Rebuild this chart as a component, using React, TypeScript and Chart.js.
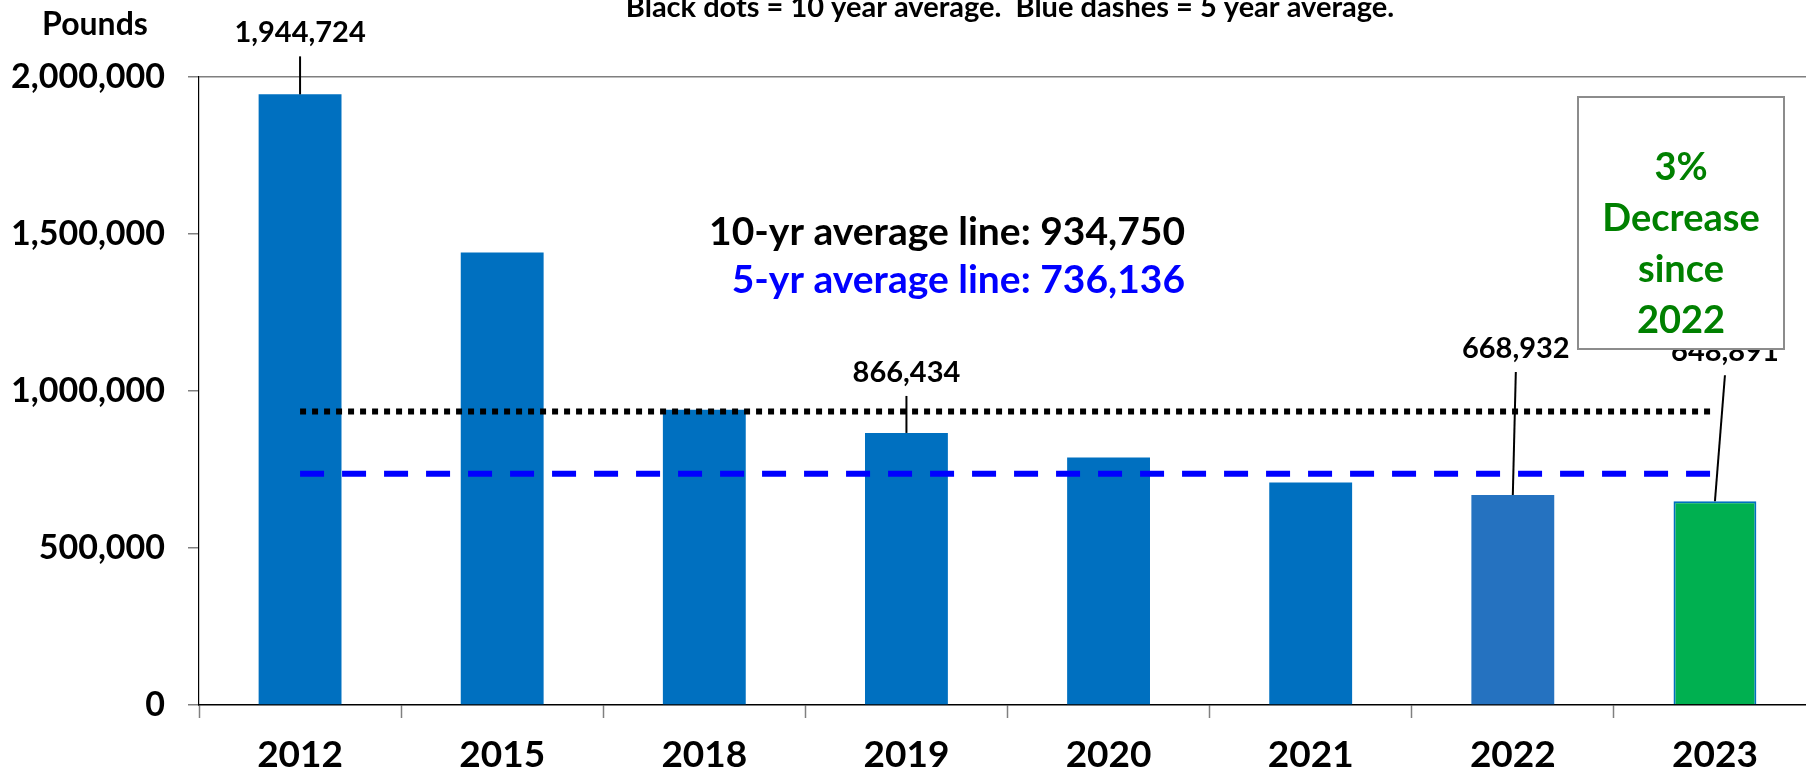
import React, { useEffect, useRef } from "react";
import { Chart, registerables } from "chart.js";

Chart.register(...registerables);

// ---------- data ----------
const categories = ["2012", "2015", "2018", "2019", "2020", "2021", "2022", "2023"];
const pounds = [1944724, 1441000, 940000, 866434, 788000, 708400, 668932, 648891];
const tenYearAverage = 934750;
const fiveYearAverage = 736136;
const yTicks = [0, 500000, 1000000, 1500000, 2000000];
const labeledYears = ["2012", "2019", "2022", "2023"];
const titleText = "Black dots = 10 year average.  Blue dashes = 5 year average.";
const unitText = "Pounds";
const noteLines = ["3%", "Decrease", "since", "2022"];

// ---------- style ----------
const FONT = "Lato, 'Open Sans', sans-serif";
const fmt = (v: number) => v.toLocaleString("en-US");
const barColors = categories.map((c) =>
  c === "2023" ? "#00B050" : c === "2022" ? "#2572C0" : "#0070C0"
);
const barBorderColors = categories.map((c) => (c === "2023" ? "#0070C0" : "rgba(0,0,0,0)"));
const barBorderWidths = categories.map((c) => (c === "2023" ? 2 : 0));
// label baseline offset from bar top, horizontal offset
const labelPlacement: Record<string, { dx: number; dy: number }> = {
  "2012": { dx: 0, dy: -52 },
  "2019": { dx: 0, dy: -51 },
  "2022": { dx: 3, dy: -137 },
  "2023": { dx: 10, dy: -140 },
};

const overlayPlugin = {
  id: "overlay",
  afterDatasetsDraw(chart: any) {
    const ctx = chart.ctx as CanvasRenderingContext2D;
    const meta = chart.getDatasetMeta(2);
    ctx.save();

    // title (cut at the top)
    ctx.font = `bold 29px ${FONT}`;
    ctx.fillStyle = "#000";
    ctx.textAlign = "center";
    ctx.textBaseline = "alphabetic";
    ctx.fillText(titleText, 1010, 17);

    // unit
    ctx.font = `bold 32px ${FONT}`;
    ctx.fillText(unitText, 95, 35);

    // data labels with leader lines
    ctx.font = `bold 29px ${FONT}`;
    labeledYears.forEach((y) => {
      const i = categories.indexOf(y);
      const el = meta.data[i];
      const p = labelPlacement[y];
      const lx = el.x + p.dx;
      const ly = el.y + p.dy;
      ctx.beginPath();
      ctx.moveTo(lx, ly + 14);
      ctx.lineTo(el.x, el.y);
      ctx.lineWidth = 2;
      ctx.strokeStyle = "#000";
      ctx.stroke();
      ctx.fillStyle = "#000";
      ctx.fillText(fmt(pounds[i]), lx, ly);
    });

    // average texts
    ctx.font = `bold 39px ${FONT}`;
    ctx.textAlign = "right";
    ctx.fillStyle = "#000";
    ctx.fillText(`10-yr average line: ${fmt(tenYearAverage)}`, 1185, 245);
    ctx.fillStyle = "#0000FF";
    ctx.fillText(`5-yr average line: ${fmt(fiveYearAverage)}`, 1185, 293);

    // note box
    ctx.fillStyle = "#FFFFFF";
    ctx.fillRect(1578, 97, 206, 252);
    ctx.lineWidth = 2;
    ctx.strokeStyle = "#8C8C8C";
    ctx.strokeRect(1578, 97, 206, 252);
    ctx.font = `bold 38px ${FONT}`;
    ctx.textAlign = "center";
    ctx.fillStyle = "#008000";
    const baselines = [180, 231, 282, 333];
    noteLines.forEach((t, k) => ctx.fillText(t, 1681, baselines[k]));

    ctx.restore();
  },
};

export default function App() {
  const canvasRef = useRef<HTMLCanvasElement | null>(null);

  useEffect(() => {
    let chart: Chart | null = null;
    let cancelled = false;
    const build = () => {
      if (cancelled || !canvasRef.current) return;
      chart = new Chart(canvasRef.current, {
        type: "bar",
        data: {
          labels: categories,
          datasets: [
            {
              type: "line",
              label: "10-yr average",
              data: categories.map(() => tenYearAverage),
              borderColor: "#000000",
              borderWidth: 6,
              borderDash: [6, 6],
              borderCapStyle: "butt",
              pointRadius: 0,
              fill: false,
              tension: 0,
            } as any,
            {
              type: "line",
              label: "5-yr average",
              data: categories.map(() => fiveYearAverage),
              borderColor: "#0000FF",
              borderWidth: 6,
              borderDash: [24, 18],
              borderCapStyle: "butt",
              pointRadius: 0,
              fill: false,
              tension: 0,
            } as any,
            {
              type: "bar",
              label: "Pounds",
              data: pounds,
              backgroundColor: barColors,
              borderColor: barBorderColors,
              borderWidth: barBorderWidths,
              categoryPercentage: 1,
              barPercentage: 0.41,
            } as any,
          ],
        },
        options: {
          responsive: false,
          animation: false,
          layout: { padding: { top: 77, left: 0, right: 0, bottom: 0 } },
          plugins: {
            legend: { display: false },
            tooltip: { enabled: false },
            title: { display: false },
          },
          scales: {
            x: {
              type: "category",
              offset: true,
              afterFit: (s: any) => {
                s.height = 70;
              },
              grid: {
                offset: true,
                drawOnChartArea: false,
                drawTicks: true,
                tickLength: 13,
                tickColor: "#808080",
                tickWidth: 1.5,
              },
              border: { color: "#000000", width: 1.5 },
              ticks: {
                color: "#000000",
                font: { family: FONT, size: 37, weight: "bold" },
                padding: 15,
                maxRotation: 0,
                autoSkip: false,
              },
            },
            y: {
              min: 0,
              max: 2000000,
              afterFit: (s: any) => {
                s.width = 199;
              },
              afterBuildTicks: (s: any) => {
                s.ticks = yTicks.map((v) => ({ value: v }));
              },
              grid: {
                color: (c: any) =>
                  c.tick && c.tick.value === 2000000 ? "#7F7F7F" : "rgba(0,0,0,0)",
                lineWidth: 1.5,
                drawTicks: true,
                tickLength: 11,
                tickColor: "#808080",
                tickWidth: 1.5,
              },
              border: { color: "#000000", width: 1.2 },
              ticks: {
                color: "#000000",
                font: { family: FONT, size: 34, weight: "bold" },
                padding: 23,
                callback: (v: any) => fmt(Number(v)),
              },
            },
          },
        } as any,
        plugins: [overlayPlugin],
      });
    };
    const fontsReady = (document as any).fonts
      ? Promise.all([(document as any).fonts.load(`bold 30px Lato`)]).catch(() => null)
      : Promise.resolve(null);
    fontsReady.then(build);
    return () => {
      cancelled = true;
      if (chart) chart.destroy();
    };
  }, []);

  return (
    <div
      style={{
        position: "fixed",
        left: 0,
        top: 0,
        width: 1806,
        height: 775,
        overflow: "hidden",
        background: "#ffffff",
      }}
    >
      <canvas ref={canvasRef} width={1816} height={775} style={{ display: "block" }} />
    </div>
  );
}
